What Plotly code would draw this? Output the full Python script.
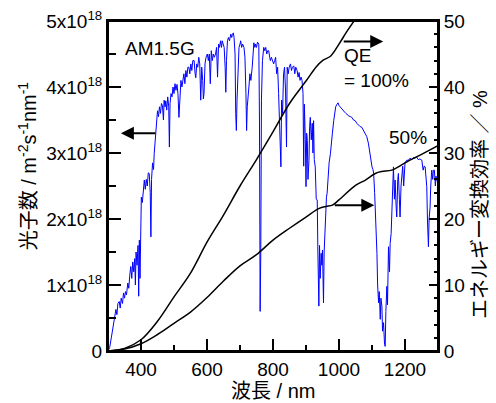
import numpy as np
import plotly.graph_objects as go

# AM1.5G photon flux spectrum (units of 1e18 m^-2 s^-1 nm^-1)
wl = [300,305,310,315,320,324,327,330,334,337,340,344,347,350,353,356,360,363,366,369,372,375,378,381,383,385,388,391,393,395,397,399,
      401,404,407,410,413,416,419,422,425,428,430,432,435,438,440,443,445,448,450,453,456,459,462,465,468,470,473,475,478,481,484,486,488,491,494,497,
      500,503,506,509,512,515,518,521,524,527,530,533,536,539,542,545,548,551,554,557,561,564,566,569,572,575,578,581,584,587,589,591,594,597,
      601,604,607,610,613,616,619,622,626,629,632,635,638,641,644,646,649,652,655,657,659,662,665,668,672,675,677,680,682,685,687,689,691,694,697,
      700,702,705,708,712,715,718,720,722,725,727,730,733,737,740,742,745,747,750,753,757,759,761,763,765,768,772,775,778,781,784,787,790,792,795,798,
      802,805,808,811,814,817,820,822,824,826,829,832,835,838,840,841,843,846,849,853,856,859,863,866,869,873,876,879,882,885,888,891,893,895,898,
      900,902,904,906,909,911,913,916,919,921,923,925,928,931,934,936,939,941,943,946,948,950,953,955,958,960,962,964,967,970,974,977,980,984,987,990,994,997,
      1000,1003,1006,1009,1013,1017,1021,1025,1030,1035,1039,1044,1049,1054,1059,1064,1069,1074,1079,1084,1089,1093,1095,1098,
      1100,1103,1105,1108,1110,1112,1115,1117,1120,1122,1125,1127,1130,1132,1135,1138,1140,1142,1145,1147,1150,1153,1155,1158,1160,1163,1165,1168,1170,1173,1175,1178,1180,1183,1185,1188,1190,1193,1196,
      1200,1205,1210,1215,1220,1225,1230,1235,1240,1245,1251,1255,1258,1261,1264,1266,1268,1271,1273,1276,1278,1281,1284,1286,1289,1292,1294,1296,1300]
flux = [0.0,0.05,0.2,0.35,0.5,0.63,0.55,0.72,0.75,0.65,0.8,0.72,0.88,0.8,0.9,0.85,1.03,0.95,1.15,1.28,1.1,1.35,1.2,1.4,1.0,1.5,1.3,1.6,0.83,1.68,1.1,2.0,
        2.33,2.25,2.5,2.59,2.45,2.6,2.5,2.7,2.69,2.4,1.73,2.6,2.85,2.75,2.99,3.2,3.34,3.5,3.64,3.55,3.7,3.6,3.75,3.72,3.5,3.8,3.7,3.79,3.65,3.85,3.7,3.09,3.75,3.9,3.85,4.0,
        3.9,4.05,3.95,4.04,3.9,3.54,3.95,4.1,4.0,4.15,4.2,4.05,4.25,4.15,4.3,4.3,4.2,4.35,4.25,4.4,4.4,4.2,4.14,4.35,4.3,4.45,4.35,3.8,4.3,4.1,3.82,3.9,4.35,4.45,
        4.5,4.4,4.5,4.05,4.55,4.4,4.5,4.45,4.5,4.6,4.15,4.65,4.6,4.7,4.6,4.7,4.65,4.6,4.3,3.92,4.4,4.7,4.75,4.7,4.8,4.75,4.8,4.82,4.75,4.5,3.6,3.34,3.8,4.4,4.6,
        4.65,4.7,4.6,4.65,4.6,4.45,3.9,3.34,3.7,4.0,4.0,4.2,4.1,4.3,4.5,4.67,4.6,4.65,4.6,4.68,4.65,3.5,0.6,1.5,3.8,4.4,4.6,4.55,4.6,4.5,4.55,4.55,4.45,4.4,4.45,4.4,
        4.35,4.4,4.45,4.2,4.3,3.9,3.5,3.0,2.79,3.8,3.6,4.2,4.3,3.94,3.6,3.09,4.3,4.2,4.3,4.35,4.25,4.3,4.32,4.2,4.3,4.25,4.15,4.22,4.1,4.15,4.1,3.9,2.8,3.74,3.2,
        2.49,3.3,3.19,2.6,2.89,3.4,3.54,3.2,3.45,3.0,3.49,2.9,2.79,2.3,2.29,1.5,0.68,1.6,1.1,1.48,1.3,1.53,0.73,1.5,1.98,2.1,2.33,2.39,2.7,2.85,2.99,3.2,3.3,3.49,3.6,3.7,3.74,3.76,
        3.72,3.7,3.68,3.67,3.63,3.62,3.6,3.58,3.56,3.55,3.54,3.5,3.49,3.45,3.42,3.4,3.39,3.35,3.29,3.25,3.15,3.0,2.99,2.85,
        2.79,2.75,2.69,2.4,2.18,1.9,1.48,1.0,0.73,0.9,0.48,0.8,0.68,0.3,0.43,0.1,0.07,0.6,0.98,0.7,1.58,1.2,1.63,1.78,2.2,2.5,2.79,2.3,2.59,2.2,2.03,2.6,2.69,2.3,2.03,2.5,2.64,2.8,2.5,
        2.85,2.89,2.89,2.92,2.9,2.93,2.92,2.94,2.9,2.91,2.89,2.74,2.8,2.79,2.6,2.49,2.0,1.58,2.0,2.18,2.5,2.74,2.6,2.74,2.74,2.5,2.65,2.59,2.55]

# Efficiency curves (%), right axis
qe100_wl = [300,350,400,450,500,550,600,650,700,750,800,850,900,930,950,975,1000,1025,1050]
qe100_eff = [0,0.4,1.7,4.5,8.2,11.8,16.5,20.6,25.0,29.0,33.2,37.5,40.9,43.0,44.0,44.7,46.5,48.5,50.3]
qe50_wl = [300,350,400,450,500,550,600,650,700,750,800,850,900,940,960,980,1000,1050,1080,1110,1130,1160,1200,1250,1300]
qe50_eff = [0,0.3,1.1,2.5,4.2,5.9,8.1,10.6,12.9,14.6,16.8,18.6,20.3,21.6,21.9,22.1,22.9,25.1,25.9,26.9,27.2,27.4,28.5,29.8,31.1]

left_tickvals = [0, 1, 2, 3, 4, 5]
left_ticktext = ["0", "1x10<sup>18</sup>", "2x10<sup>18</sup>", "3x10<sup>18</sup>", "4x10<sup>18</sup>", "5x10<sup>18</sup>"]

FONT = "Liberation Sans, Arial, Noto Sans CJK JP"
fig = go.Figure()
fig.add_trace(go.Scatter(x=wl, y=[v * 1e18 for v in flux], mode="lines",
                         line=dict(color="#0000FF", width=1), yaxis="y", showlegend=False))
fig.add_trace(go.Scatter(x=qe100_wl, y=qe100_eff, mode="lines", line=dict(color="black", width=1.5, shape="spline"),
                         yaxis="y2", showlegend=False))
fig.add_trace(go.Scatter(x=qe50_wl, y=qe50_eff, mode="lines", line=dict(color="black", width=1.5, shape="spline"),
                         yaxis="y2", showlegend=False))

axcommon = dict(showline=True, linecolor="black", linewidth=2, showgrid=False, zeroline=False, automargin=False,
                ticks="inside", tickcolor="black", tickwidth=2, tickfont=dict(size=19, color="black", family=FONT))
fig.update_layout(
    template="none",
    width=496, height=403,
    margin=dict(l=108, r=58, t=21, b=52, autoexpand=False),
    paper_bgcolor="white", plot_bgcolor="rgba(0,0,0,0)",
    font=dict(family=FONT, color="black", size=19),
    xaxis=dict(range=[300, 1300], tickvals=[400, 600, 800, 1000, 1200], ticklen=12, mirror=True, layer="above traces",
               minor=dict(tickvals=[300, 500, 700, 900, 1100, 1300], ticklen=6, ticks="inside", tickcolor="black", tickwidth=2),
               **axcommon),
    yaxis=dict(range=[0, 5e18], tickvals=[v * 1e18 for v in left_tickvals], ticktext=left_ticktext, ticklen=13, layer="above traces",
               minor=dict(tickvals=[0.5e18, 1.5e18, 2.5e18, 3.5e18, 4.5e18], ticklen=8, ticks="inside", tickcolor="black", tickwidth=2),
               **axcommon),
    yaxis2=dict(range=[0, 50], overlaying="y", side="right", tickvals=[0, 10, 20, 30, 40, 50], ticklen=9,
                minor=dict(dtick=2, ticklen=4, ticks="inside", tickcolor="black", tickwidth=2),
                **axcommon),
)

# plot frame
fig.add_shape(type="rect", xref="paper", yref="paper", x0=0, x1=1, y0=0, y1=1,
              line=dict(color="black", width=2), fillcolor="rgba(0,0,0,0)", layer="above")

ann = []
# axis titles
ann.append(dict(text="光子数 / m<sup>-2</sup>s<sup>-1</sup>nm<sup>-1</sup>", xref="paper", yref="paper",
                x=-0.245, y=0.56, xanchor="center", yanchor="middle", textangle=-90, showarrow=False, font=dict(size=20)))
ann.append(dict(text="エネルギー変換効率 ／ %", xref="paper", yref="paper",
                x=1.127, y=0.445, xanchor="center", yanchor="middle", textangle=-90, showarrow=False, font=dict(size=20)))
ann.append(dict(text="波長 / nm", xref="paper", yref="paper", x=0.5, y=-0.121, xanchor="center", yanchor="middle",
                showarrow=False, font=dict(size=20)))
# labels
ann.append(dict(text="AM1.5G", x=345, y=4.585e18, xref="x", yref="y", xanchor="left", yanchor="middle", showarrow=False, font=dict(size=19)))
ann.append(dict(text="QE", x=1009, y=44.7, xref="x", yref="y2", xanchor="left", yanchor="middle", showarrow=False, font=dict(size=19)))
ann.append(dict(text="= 100%", x=1009, y=41.0, xref="x", yref="y2", xanchor="left", yanchor="middle", showarrow=False, font=dict(size=19)))
ann.append(dict(text="50%", x=1145, y=32.3, xref="x", yref="y2", xanchor="left", yanchor="middle", showarrow=False, font=dict(size=19)))
# arrows
ann.append(dict(text="", x=339, y=3.3e18, xref="x", yref="y", ax=36, ay=0, axref="pixel", ayref="pixel",
                showarrow=True, arrowhead=2, arrowsize=1.3, arrowwidth=2, arrowcolor="black"))
ann.append(dict(text="", x=1134, y=46.9, xref="x", yref="y2", ax=-41, ay=0,
                showarrow=True, arrowhead=2, arrowsize=1.3, arrowwidth=2, arrowcolor="black"))
ann.append(dict(text="", x=1107, y=22.1, xref="x", yref="y2", ax=-41, ay=0,
                showarrow=True, arrowhead=2, arrowsize=1.3, arrowwidth=2, arrowcolor="black"))
fig.update_layout(annotations=ann)

# remove the browser's default 8px page margin so the figure fills the window exactly
fig.write_html("out.html", config={"displayModeBar": False},
               post_script="document.body.style.margin='0';")
